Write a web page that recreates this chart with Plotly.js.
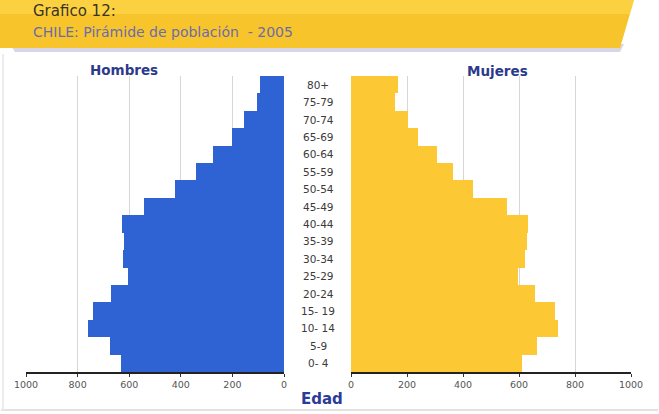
<!DOCTYPE html>
<html>
<head>
<meta charset="utf-8">
<script src="https://cdn.plot.ly/plotly-3.0.1.min.js"></script>
<style>
html,body{margin:0;padding:0;background:#fff;}
#chart{width:659px;height:414px;}
</style>
</head>
<body>
<div id="chart"></div>
<script>
// Age groups, bottom to top
const ageGroups = ['0- 4','5-9','10- 14','15- 19','20-24','25-29','30-34','35-39','40-44','45-49','50-54','55-59','60-64','65-69','70-74','75-79','80+'];
// Population (thousands)
const hombres = [632, 674, 760, 741, 671, 605, 624, 620, 628, 543, 422, 341, 276, 202, 155, 105, 93];
const mujeres = [611, 664, 739, 729, 657, 597, 621, 628, 633, 557, 436, 365, 307, 240, 204, 158, 168];
const tickValues = [0, 200, 400, 600, 800, 1000];
const tickLabels = ['0', '200', '400', '600', '800', '1000'];

const W = 659, H = 414;
const M = {l: 0, r: 0, t: 76, b: 42};
const plotH = H - M.t - M.b;
const px = x => x / W;
const py = y => (H - M.b - y) / plotH;

const traces = [
  {
    type: 'bar', orientation: 'h', name: 'Hombres',
    x: hombres, y: ageGroups, xaxis: 'x', yaxis: 'y',
    marker: {color: '#2f62d3', line: {width: 0}},
    hoverinfo: 'x+y'
  },
  {
    type: 'bar', orientation: 'h', name: 'Mujeres',
    x: mujeres, y: ageGroups, xaxis: 'x2', yaxis: 'y',
    marker: {color: '#fcc833', line: {width: 0}},
    hoverinfo: 'x+y'
  }
];

const tickFont = {family: 'DejaVu Sans', size: 9.5, color: '#555'};
const axisCommon = {
  tickvals: tickValues, ticktext: tickLabels,
  showgrid: true, gridcolor: '#d6d6d6', gridwidth: 1,
  showline: true, linecolor: '#222', linewidth: 2,
  ticks: 'outside', ticklen: 3, tickcolor: '#333',
  tickfont: tickFont, fixedrange: true
};

const annotations = ageGroups.map(g => ({
  xref: 'paper', yref: 'y', x: px(318), y: g,
  text: g, showarrow: false, xanchor: 'center', yanchor: 'middle',
  font: {family: 'DejaVu Sans', size: 10.5, color: '#3a3a3a'}
}));
annotations.push(
  {xref: 'paper', yref: 'paper', x: px(124), y: py(70), text: '<b>Hombres</b>', showarrow: false,
   xanchor: 'center', yanchor: 'middle', font: {family: 'DejaVu Sans', size: 13.5, color: '#2c3a8c'}},
  {xref: 'paper', yref: 'paper', x: px(497), y: py(71), text: '<b>Mujeres</b>', showarrow: false,
   xanchor: 'center', yanchor: 'middle', font: {family: 'DejaVu Sans', size: 13.5, color: '#2c3a8c'}},
  {xref: 'paper', yref: 'paper', x: px(322), y: py(399), text: '<b>Edad</b>', showarrow: false,
   xanchor: 'center', yanchor: 'middle', font: {family: 'DejaVu Sans', size: 15, color: '#2c3a9a'}},
  {xref: 'paper', yref: 'paper', x: px(31), y: py(11), text: 'Grafico 12:', showarrow: false,
   xanchor: 'left', yanchor: 'middle', font: {family: 'DejaVu Sans', size: 15, color: '#3a3322'}},
  {xref: 'paper', yref: 'paper', x: px(31), y: py(32), text: 'CHILE: Pirámide de población  - 2005', showarrow: false,
   xanchor: 'left', yanchor: 'middle', font: {family: 'DejaVu Sans', size: 14, color: '#6c6ca8'}}
);

const shapes = [
  // banner shadow
  {type: 'path', xref: 'paper', yref: 'paper', layer: 'below',
   path: `M ${px(10)} ${py(44)} L ${px(624)} ${py(44)} L ${px(620)} ${py(52)} L ${px(15)} ${py(52)} Z`,
   fillcolor: 'rgba(130,115,165,0.3)', line: {width: 0}},
  // banner
  {type: 'path', xref: 'paper', yref: 'paper', layer: 'below',
   path: `M ${px(0)} ${py(0)} L ${px(634)} ${py(0)} L ${px(620)} ${py(48)} L ${px(0)} ${py(48)} Z`,
   fillcolor: '#f8c42c', line: {width: 0}},
  // lighter top band of banner
  {type: 'path', xref: 'paper', yref: 'paper', layer: 'below',
   path: `M ${px(0)} ${py(0)} L ${px(634)} ${py(0)} L ${px(630)} ${py(14)} L ${px(0)} ${py(14)} Z`,
   fillcolor: 'rgba(255,225,90,0.45)', line: {width: 0}},
  // frame
  {type: 'line', xref: 'paper', yref: 'paper', x0: px(1), x1: px(658), y0: py(410), y1: py(410),
   line: {color: '#e2e2e2', width: 2}},
  {type: 'line', xref: 'paper', yref: 'paper', x0: px(3), x1: px(3), y0: py(54), y1: py(410),
   line: {color: '#ececec', width: 2}}
];

const layout = {
  width: W, height: H,
  margin: M,
  paper_bgcolor: '#ffffff', plot_bgcolor: '#ffffff',
  showlegend: false,
  bargap: 0,
  font: {family: 'DejaVu Sans'},
  xaxis: Object.assign({}, axisCommon, {
    domain: [px(26), px(284)], range: [1000, 0], autorange: false, anchor: 'y',
    zeroline: false
  }),
  xaxis2: Object.assign({}, axisCommon, {
    domain: [px(351), px(631)], range: [0, 1000], autorange: false, anchor: 'y',
    zeroline: false
  }),
  yaxis: {
    type: 'category', categoryorder: 'array', categoryarray: ageGroups,
    range: [-0.5, ageGroups.length - 0.5], autorange: false,
    showticklabels: false, showgrid: false, zeroline: false, showline: false, ticks: '',
    fixedrange: true
  },
  annotations: annotations,
  shapes: shapes
};

Plotly.newPlot('chart', traces, layout, {displayModeBar: false, staticPlot: true});
</script>
</body>
</html>
